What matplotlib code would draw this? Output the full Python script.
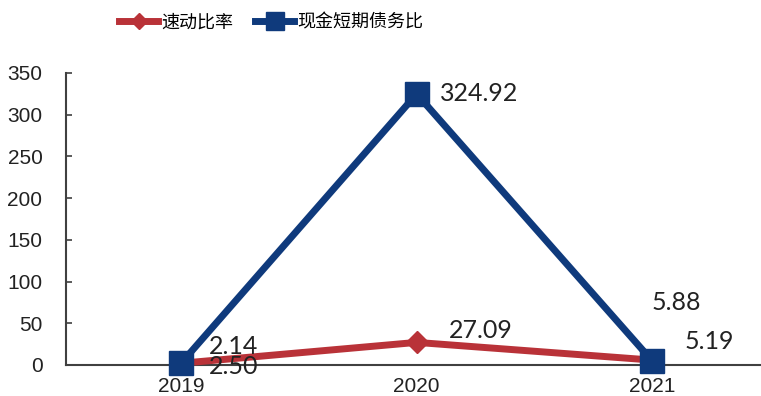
import matplotlib
matplotlib.use('agg')
import matplotlib.pyplot as plt

years = ['2019', '2020', '2021']
quick_ratio = [2.14, 27.09, 5.88]
cash_debt_ratio = [2.50, 324.92, 5.19]
quick_labels = ['2.14', '27.09', '5.88']
cash_labels = ['2.50', '324.92', '5.19']

plt.rcParams['font.family'] = ['Liberation Sans', 'Noto Sans CJK SC', 'DejaVu Sans']

red = '#B93238'
blue = '#0F3A7C'

fig = plt.figure(figsize=(7.61, 3.96), dpi=100)
ax = fig.add_axes([66/761, 31/396, 1 - 66/761, 292/396])

x = list(range(len(years)))
ax.plot(x, quick_ratio, color=red, lw=5, marker='D', ms=11, label='速动比率', zorder=3, clip_on=False)
ax.plot(x, cash_debt_ratio, color=blue, lw=5, marker='s', ms=17, label='现金短期债务比', zorder=4, clip_on=False)

ax.set_xlim(-0.49, 2.463)
ax.set_ylim(0, 350)
ax.set_yticks(range(0, 351, 50))
ax.set_xticks(x)
ax.set_xticklabels(years)

for s in ['top', 'right']:
    ax.spines[s].set_visible(False)
for s in ['left', 'bottom']:
    ax.spines[s].set_color('#404040')
    ax.spines[s].set_linewidth(1.5)
ax.tick_params(axis='y', direction='in', length=4, width=1.2, color='#404040', pad=17, labelsize=15, labelcolor='#222222')
ax.tick_params(axis='x', length=0, pad=9, labelsize=15, labelcolor='#222222')

lab_font = dict(fontsize=18, color='#222222', family=['Lato', 'DejaVu Sans'])
# quick ratio labels
ax.text(0.115, 21.6, quick_labels[0], ha='left', va='center', **lab_font)
ax.text(1.138, 40.8, quick_labels[1], ha='left', va='center', **lab_font)
ax.text(1.996, 75.5, quick_labels[2], ha='left', va='center', **lab_font)
# cash to short-term debt labels
ax.text(0.115, -1.2, cash_labels[0], ha='left', va='center', **lab_font)
ax.text(1.10, 326, cash_labels[1], ha='left', va='center', **lab_font)
ax.text(2.14, 27.6, cash_labels[2], ha='left', va='center', **lab_font)

fig.legend(loc='center', bbox_to_anchor=(0.356, 0.944), ncol=2, frameon=False,
           handlelength=2.2, columnspacing=1.2, handletextpad=0.15, markerscale=0.75,
           prop={'family': ['Noto Sans CJK SC', 'DejaVu Sans'], 'size': 13})

fig.savefig('out.png', dpi=100)
